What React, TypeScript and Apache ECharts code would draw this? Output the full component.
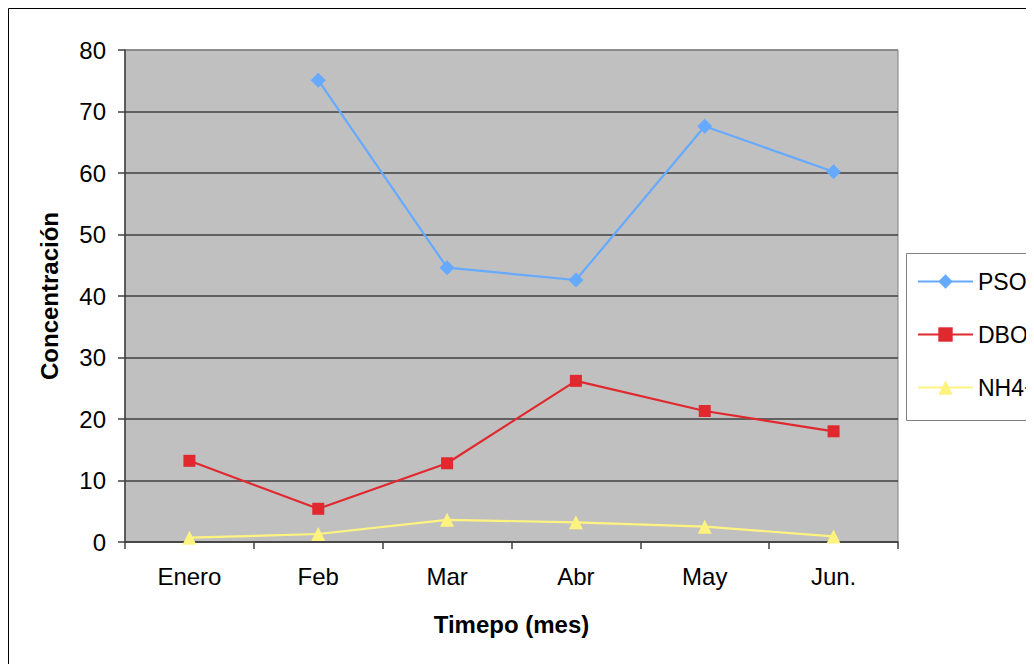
import React, { useEffect, useRef } from "react";
import * as echarts from "echarts";

const categories = ["Enero", "Feb", "Mar", "Abr", "May", "Jun."];
const psoValues = [null, 75.1, 44.6, 42.6, 67.6, 60.2];
const dboValues = [13.2, 5.4, 12.8, 26.2, 21.3, 18.0];
const nh4Values = [0.7, 1.3, 3.6, 3.2, 2.5, 0.9];
const seriesNames = ["PSO", "DBO", "NH4+"];

const FONT = "Liberation Sans, Arial, sans-serif";

export default function App() {
  const ref = useRef<HTMLDivElement>(null);
  useEffect(() => {
    if (!ref.current) return;
    const chart = echarts.init(ref.current, undefined, { renderer: "svg" });
    chart.setOption({
      animation: false,
      textStyle: { fontFamily: FONT },
      graphic: [
        {
          type: "rect",
          shape: { x: 0.5, y: 0.5, width: 1200, height: 900 },
          style: { fill: "none", stroke: "#000", lineWidth: 1 },
          silent: true,
          z: -10,
        },
        {
          type: "rect",
          shape: { x: 898.5, y: 245.5, width: 300, height: 167 },
          style: { fill: "#fff", stroke: "#808080", lineWidth: 1 },
          silent: true,
          z: 0,
        },
      ],
      grid: {
        left: 117,
        top: 42,
        width: 773,
        height: 492,
        show: true,
        backgroundColor: "#c0c0c0",
        borderColor: "#808080",
        borderWidth: 1,
      },
      legend: {
        orient: "vertical",
        left: 909,
        top: 262,
        padding: 0,
        itemWidth: 55,
        itemHeight: 18,
        itemGap: 30,
        z: 10,
        textStyle: { fontFamily: FONT, fontSize: 23, color: "#000" },
        data: seriesNames,
      },
      xAxis: {
        type: "category",
        data: categories,
        boundaryGap: true,
        name: "Timepo (mes)",
        nameLocation: "middle",
        nameGap: 70,
        nameTextStyle: { fontFamily: FONT, fontSize: 24, fontWeight: "bold", color: "#000" },
        axisLine: { lineStyle: { color: "#404040", width: 1.5 } },
        axisTick: { show: true, length: 7, inside: false, lineStyle: { color: "#404040", width: 1.5 } },
        axisLabel: { fontFamily: FONT, fontSize: 24, color: "#000", margin: 22 },
        splitLine: { show: false },
      },
      yAxis: {
        type: "value",
        min: 0,
        max: 80,
        interval: 10,
        name: "Concentración",
        nameLocation: "middle",
        nameGap: 64,
        nameRotate: 90,
        nameTextStyle: { fontFamily: FONT, fontSize: 24, fontWeight: "bold", color: "#000" },
        axisLine: { show: true, lineStyle: { color: "#404040", width: 1.5 } },
        axisTick: { show: true, length: 7, inside: false, lineStyle: { color: "#404040", width: 1.5 } },
        axisLabel: { fontFamily: FONT, fontSize: 24, color: "#000", margin: 19 },
        splitLine: {
          show: true,
          lineStyle: {
            color: ["#404040", "#404040", "#404040", "#404040", "#404040", "#404040", "#404040", "#404040", "#808080"],
            width: 1.5,
          },
        },
      },
      series: [
        {
          name: seriesNames[0],
          type: "line",
          data: psoValues,
          symbol: "diamond",
          symbolSize: 15,
          connectNulls: false,
          lineStyle: { color: "#66aaff", width: 2.2 },
          itemStyle: { color: "#66aaff" },
        },
        {
          name: seriesNames[1],
          type: "line",
          data: dboValues,
          symbol: "rect",
          symbolSize: 12,
          lineStyle: { color: "#e0282e", width: 2.2 },
          itemStyle: { color: "#e0282e" },
        },
        {
          name: seriesNames[2],
          type: "line",
          data: nh4Values,
          symbol: "triangle",
          symbolSize: 14,
          lineStyle: { color: "#fff380", width: 2.2 },
          itemStyle: { color: "#fff380" },
        },
      ],
    });
    return () => chart.dispose();
  }, []);
  return <div ref={ref} style={{ width: 1026, height: 656 }} />;
}
